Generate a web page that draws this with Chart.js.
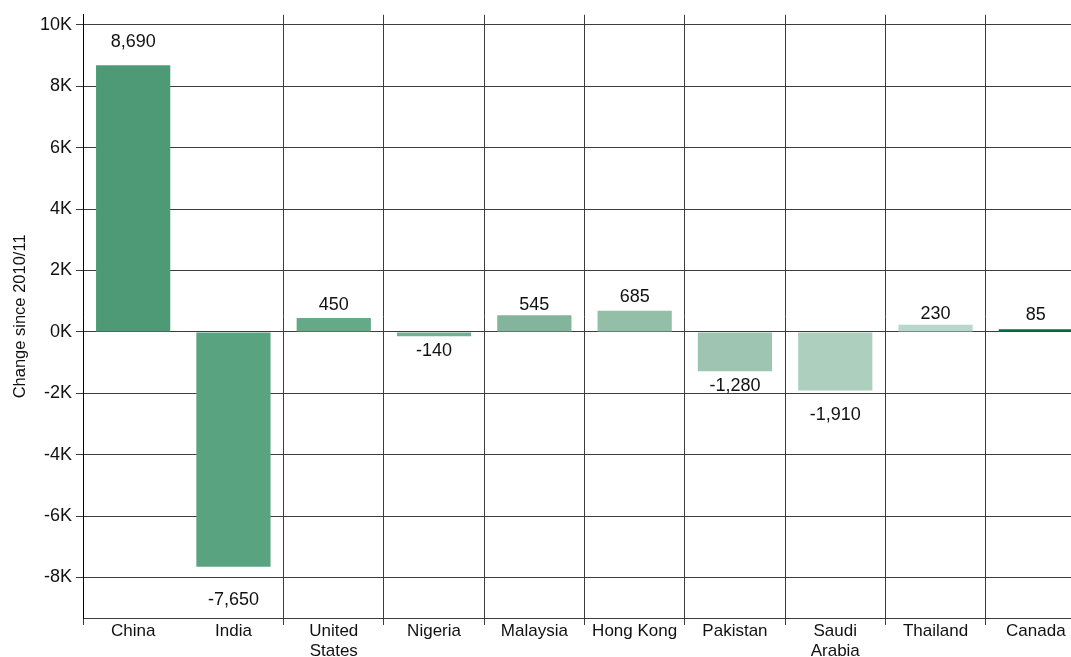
<!DOCTYPE html>
<html>
<head>
<meta charset="utf-8">
<script src="https://cdn.jsdelivr.net/npm/chart.js@4"></script>
<style>
  html, body { margin: 0; padding: 0; background: #fff; overflow: hidden; }
  #wrap { width: 1090px; height: 657px; }
</style>
</head>
<body>
<div id="wrap"><canvas id="c" width="1090" height="657"></canvas></div>
<script>
// Countries and their change in enrolments since 2010/11
const countries = ['China', 'India', ['United', 'States'], 'Nigeria', 'Malaysia', 'Hong Kong', 'Pakistan', ['Saudi', 'Arabia'], 'Thailand', 'Canada'];
const changes = [8690, -7650, 450, -140, 545, 685, -1280, -1910, 230, 85];
const yTicks = [-8000, -6000, -4000, -2000, 0, 2000, 4000, 6000, 8000, 10000];

// Bar fills, darkest to lightest, Canada highlighted
const barColors = ['#4e9a77', '#5aa381', '#66a988', '#73b094', '#82b59b', '#93bea7', '#9ec5b2', '#adcfbe', '#b9d8c9', '#00703c'];
// Space between a bar's end and its value label
const labelGap = [18, 25, 8, 7, 5, 9, 7, 17, 6, 9];

const FONT = '"Liberation Sans", Arial, sans-serif';
const INK = '#111';
const GRID = '#3c3c3c';

const valueLabels = {
  id: 'valueLabels',
  afterDatasetsDraw(chart) {
    const ctx = chart.ctx;
    const meta = chart.getDatasetMeta(0);
    ctx.save();
    ctx.font = '18px ' + FONT;
    ctx.fillStyle = INK;
    ctx.textAlign = 'center';
    ctx.textBaseline = 'alphabetic';
    meta.data.forEach((bar, i) => {
      const v = changes[i];
      const txt = v.toLocaleString('en-US');
      const y = v >= 0 ? bar.y - labelGap[i] : bar.y + labelGap[i] + 12.9;
      ctx.fillText(txt, bar.x, y);
    });
    ctx.restore();
  }
};

new Chart(document.getElementById('c'), {
  type: 'bar',
  data: {
    labels: countries,
    datasets: [{
      data: changes,
      backgroundColor: barColors,
      borderWidth: 0,
      barPercentage: 0.74,
      categoryPercentage: 1.0
    }]
  },
  options: {
    responsive: false,
    animation: false,
    devicePixelRatio: 1,
    layout: { padding: { top: 14, right: 4, left: 0, bottom: 0 } },
    plugins: { legend: { display: false }, tooltip: { enabled: false } },
    scales: {
      x: {
        grid: {
          // no divider between the first two columns
          color: ctx => (ctx.index === 1 ? 'rgba(0,0,0,0)' : GRID),
          lineWidth: 1, offset: true, tickLength: 7, drawTicks: true
        },
        border: { display: true, color: GRID },
        ticks: {
          color: INK,
          font: { family: FONT, size: 17, lineHeight: 1.18 },
          padding: -4,
          maxRotation: 0,
          autoSkip: false
        },
        afterFit(scale) { scale.height = 39; }
      },
      y: {
        min: -9320,
        max: 10330,
        afterBuildTicks(scale) { scale.ticks = yTicks.map(v => ({ value: v })); },
        ticks: {
          color: INK,
          font: { family: FONT, size: 18 },
          padding: 4,
          callback: v => (v / 1000) + 'K'
        },
        grid: { color: GRID, lineWidth: 1, tickLength: 7 },
        border: { display: true, color: '#000' },
        title: {
          display: true,
          text: 'Change since 2010/11',
          color: INK,
          font: { family: FONT, size: 16.5 },
          padding: { top: 11, bottom: 0 }
        },
        afterFit(scale) { scale.width = 83; }
      }
    }
  },
  plugins: [valueLabels]
});
</script>
</body>
</html>
